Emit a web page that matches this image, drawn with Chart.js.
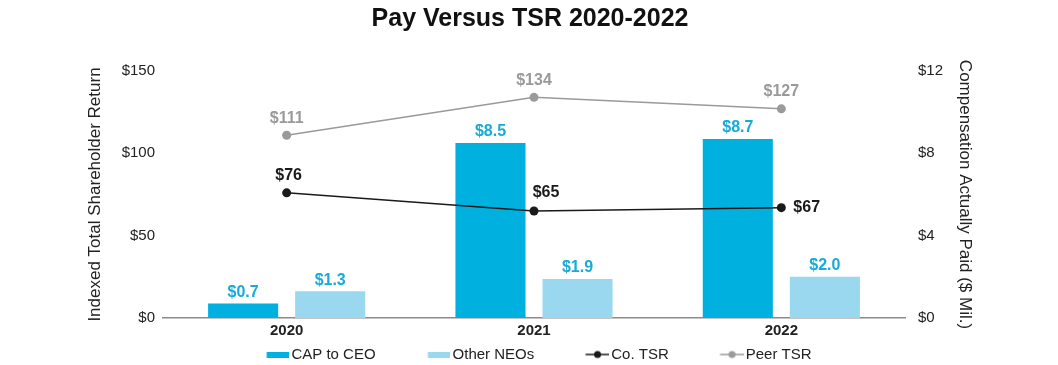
<!DOCTYPE html>
<html lang="en">
  <head>
    <meta charset="UTF-8" />
    <title>Pay Versus TSR</title>
    <script src="https://cdn.jsdelivr.net/npm/chart.js"></script>
    <style>
      html, body { margin: 0; padding: 0; background: #fff; }
      #wrap { width: 1058px; height: 365px; }
    </style>
  </head>
  <body>
    <div id="wrap"><canvas id="payChart"></canvas></div>
    <script>
      // data
      const years = ["2020", "2021", "2022"];
      const capToCeo = [0.7, 8.5, 8.7];      // $ Mil., right axis
      const otherNeos = [1.3, 1.9, 2.0];     // $ Mil., right axis
      const coTsr = [76, 65, 67];            // indexed TSR, left axis
      const peerTsr = [111, 134, 127];       // indexed TSR, left axis
      const leftTicks = [0, 50, 100, 150];
      const rightTicks = [0, 4, 8, 12];

      const CEO_BLUE = "#00b0df";
      const NEO_BLUE = "#99d8ef";
      const LABEL_BLUE = "#18aad8";
      const CO_BLACK = "#1a1a1a";
      const PEER_GRAY = "#9a9a9a";
      const FONT = "'Liberation Sans', Arial, Helvetica, sans-serif";

      // legend markers as little canvases; the marker sits at the right end,
      // the transparent left part gives the space between legend items
      const MARK_W = 65.5;          // pointStyleWidth
      const IMG_W = MARK_W + 11;    // image a bit wider so marker hugs the text
      function barMarker(color) {
        const c = document.createElement("canvas");
        c.width = IMG_W; c.height = 6;
        const g = c.getContext("2d");
        g.fillStyle = color;
        g.fillRect(IMG_W - 23, 0, 23, 6);
        return c;
      }
      function lineMarker(color) {
        const c = document.createElement("canvas");
        c.width = IMG_W; c.height = 10;
        const g = c.getContext("2d");
        g.strokeStyle = color; g.lineWidth = 1.5;
        g.beginPath(); g.moveTo(IMG_W - 24, 5); g.lineTo(IMG_W, 5); g.stroke();
        g.fillStyle = color;
        g.beginPath(); g.arc(IMG_W - 12, 5, 3.5, 0, Math.PI * 2); g.fill();
        return c;
      }
      const markers = [barMarker(CEO_BLUE), barMarker(NEO_BLUE), lineMarker(CO_BLACK), lineMarker(PEER_GRAY)];

      // nudge the legend row a bit left, like the original
      Chart.register({
        id: "legendShift",
        afterLayout(chart) {
          chart.legend.left -= 15;
          chart.legend.right -= 15;
        },
      });

      // value labels above bars / points
      Chart.register({
        id: "valueLabels",
        afterDatasetsDraw(chart) {
          const { ctx } = chart;
          ctx.save();
          ctx.font = "bold 16px " + FONT;
          chart.data.datasets.forEach((ds, i) => {
            const meta = chart.getDatasetMeta(i);
            meta.data.forEach((el, j) => {
              const v = ds.data[j];
              if (ds.type === "bar") {
                ctx.fillStyle = LABEL_BLUE;
                ctx.textAlign = "center";
                ctx.textBaseline = "middle";
                ctx.fillText("$" + v.toFixed(1), el.x, el.y - 11);
              } else if (ds.label === "Peer TSR") {
                ctx.fillStyle = PEER_GRAY;
                ctx.textAlign = "center";
                ctx.textBaseline = "middle";
                ctx.fillText("$" + v, el.x, el.y - 17);
              } else {
                ctx.fillStyle = CO_BLACK;
                ctx.textBaseline = "middle";
                if (j === 0) {
                  ctx.textAlign = "center";
                  ctx.fillText("$" + v, el.x + 2, el.y - 17);
                } else if (j === 1) {
                  ctx.textAlign = "center";
                  ctx.fillText("$" + v, el.x + 12, el.y - 18);
                } else {
                  ctx.textAlign = "left";
                  ctx.fillText("$" + v, el.x + 12, el.y);
                }
              }
            });
          });
          ctx.restore();
        },
      });

      const ctx = document.getElementById("payChart").getContext("2d");
      const payChart = new Chart(ctx, {
        data: {
          labels: years,
          datasets: [
            {
              type: "bar",
              label: "CAP to CEO",
              data: capToCeo,
              backgroundColor: CEO_BLUE,
              yAxisID: "yRight",
              order: 1,
              categoryPercentage: 0.704,
              barPercentage: 0.805,
            },
            {
              type: "bar",
              label: "Other NEOs",
              data: otherNeos,
              backgroundColor: NEO_BLUE,
              yAxisID: "yRight",
              order: 1,
              categoryPercentage: 0.704,
              barPercentage: 0.805,
            },
            {
              type: "line",
              label: "Co. TSR",
              data: coTsr,
              borderColor: CO_BLACK,
              backgroundColor: CO_BLACK,
              borderWidth: 1.5,
              pointRadius: 4.5,
              pointBorderWidth: 0,
              yAxisID: "yLeft",
              order: 0,
            },
            {
              type: "line",
              label: "Peer TSR",
              data: peerTsr,
              borderColor: PEER_GRAY,
              backgroundColor: PEER_GRAY,
              borderWidth: 1.5,
              pointRadius: 4.5,
              pointBorderWidth: 0,
              yAxisID: "yLeft",
              order: 0,
            },
          ],
        },
        options: {
          responsive: true,
          maintainAspectRatio: false,
          animation: false,
          layout: { padding: { left: 82, right: 80, top: 0, bottom: 0 } },
          plugins: {
            title: {
              display: true,
              text: "Pay Versus TSR 2020-2022",
              color: "#111",
              font: { family: FONT, size: 25, weight: "bold" },
              padding: { top: 4, bottom: 37 },
            },
            legend: {
              position: "bottom",
              maxHeight: 22,
              labels: {
                usePointStyle: true,
                pointStyleWidth: MARK_W,
                padding: 4,
                color: "#222",
                font: { family: FONT, size: 15 },
                generateLabels(chart) {
                  return chart.data.datasets.map((ds, i) => ({
                    text: ds.label,
                    pointStyle: markers[i],
                    fillStyle: "transparent",
                    strokeStyle: "transparent",
                    lineWidth: 0,
                    fontColor: "#222",
                    datasetIndex: i,
                  }));
                },
              },
            },
            tooltip: { enabled: false },
          },
          scales: {
            x: {
              grid: { display: false, drawTicks: false },
              border: { display: true, color: "#8a8a8a", width: 1.5 },
              ticks: { color: "#222", padding: 4, font: { family: FONT, size: 15, weight: "bold" } },
              afterFit(scale) { scale.height = 25; },
            },
            yLeft: {
              position: "left",
              min: 0,
              max: 150,
              afterBuildTicks(scale) { scale.ticks = leftTicks.map((v) => ({ value: v })); },
              grid: { display: false, drawTicks: false },
              border: { display: false },
              ticks: {
                color: "#222",
                padding: 8,
                font: { family: FONT, size: 15 },
                callback: (v) => "$" + v,
              },
              title: {
                display: true,
                text: "Indexed Total Shareholder Return",
                color: "#222",
                font: { family: FONT, size: 17 },
                padding: { top: 3, bottom: 3 },
              },
              afterFit(scale) { scale.width = 81; },
            },
            yRight: {
              position: "right",
              min: 0,
              max: 12,
              afterBuildTicks(scale) { scale.ticks = rightTicks.map((v) => ({ value: v })); },
              grid: { display: false, drawTicks: false },
              border: { display: false },
              ticks: {
                color: "#222",
                padding: 13,
                font: { family: FONT, size: 15 },
                callback: (v) => "$" + v,
              },
              title: {
                display: true,
                text: "Compensation Actually Paid ($ Mil.)",
                color: "#222",
                font: { family: FONT, size: 17 },
                padding: { top: 3, bottom: 3 },
              },
              afterFit(scale) { scale.width = 73; },
            },
          },
        },
      });
    </script>
  </body>
</html>
